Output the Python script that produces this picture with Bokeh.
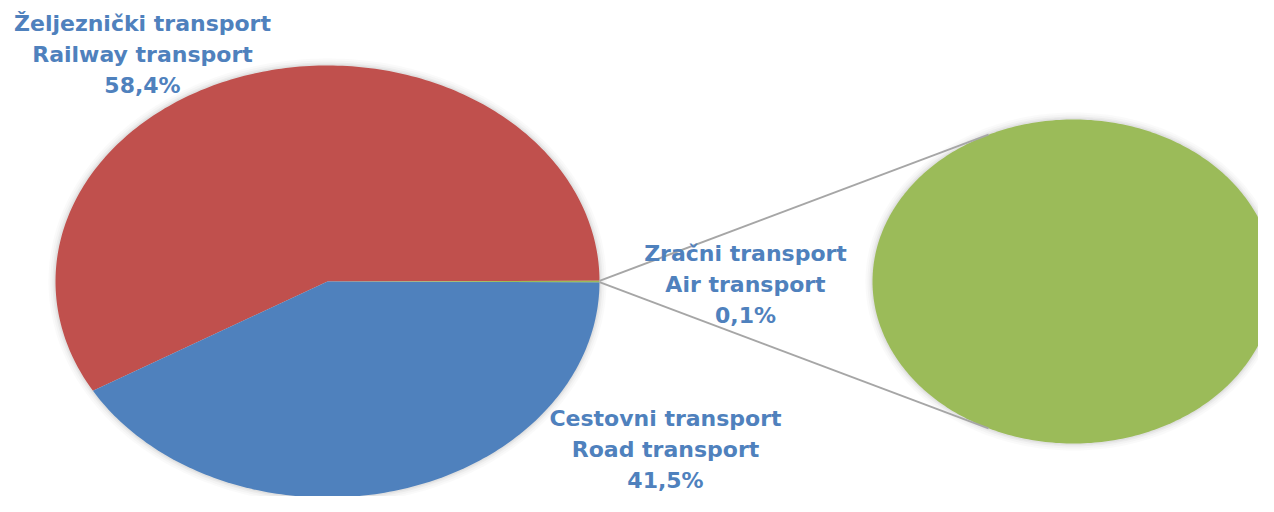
import math
from bokeh.plotting import figure
from bokeh.models import Range1d, ColumnDataSource
from bokeh.core.properties import value
from bokeh.embed import file_html
from bokeh.resources import INLINE

# ---- data ----
names_hr = ["Željeznički transport", "Cestovni transport", "Zračni transport"]
names_en = ["Railway transport", "Road transport", "Air transport"]
shares = [58.4, 41.5, 0.1]
share_labels = ["58,4%", "41,5%", "0,1%"]
colors = ["#C0504D", "#4F81BD", "#9BBB59"]
in_secondary = [False, False, True]

# ---- layout (pixels) ----
W, H = 1258, 496
main_c, main_rx, main_ry = (327, 215), 272, 216
sec_c, sec_rx, sec_ry = (1073, 215), 201, 162
label_pos = [(142, 442), (665, 47), (745, 212)]
text_color = "#4F81BD"

p = figure(width=W, height=H, output_backend="svg", toolbar_location=None,
           x_range=Range1d(0, W), y_range=Range1d(0, H), min_border=0)
p.axis.visible = False
p.grid.visible = False
p.outline_line_color = None
p.background_fill_color = "white"
p.border_fill_color = "white"


def arc_pts(c, rx, ry, a0, a1, n=None):
    if n is None:
        n = max(2, int(abs(a1 - a0) / 1.0) + 2)
    xs, ys = [], []
    for i in range(n):
        a = math.radians(a0 + (a1 - a0) * i / (n - 1))
        xs.append(c[0] + rx * math.cos(a))
        ys.append(c[1] + ry * math.sin(a))
    return xs, ys


# soft glow/shadow around the pies
for (c, rx, ry) in [(main_c, main_rx, main_ry), (sec_c, sec_rx, sec_ry)]:
    for k, a in [(7, 0.04), (5, 0.05), (3, 0.07), (1.5, 0.09)]:
        xs, ys = arc_pts(c, rx + k, ry + k, 0, 360, 361)
        p.patch(xs, ys, fill_color="#808080", fill_alpha=a, line_color=None)

# main pie: secondary group aggregated into one "other" slice centered at 0 deg
other = sum(s for s, sec in zip(shares, in_secondary) if sec)
total = sum(shares)
other_deg = other / total * 360
start = other_deg / 2
wx, wy, wc = [], [], []
for s, col, sec in zip(shares, colors, in_secondary):
    if sec:
        continue
    d = s / total * 360
    xs, ys = arc_pts(main_c, main_rx, main_ry, start, start + d)
    wx.append([main_c[0]] + xs)
    wy.append([main_c[1]] + ys)
    wc.append(col)
    start += d
xs, ys = arc_pts(main_c, main_rx, main_ry, -other_deg / 2, other_deg / 2)
wx.append([main_c[0]] + xs)
wy.append([main_c[1]] + ys)
wc.append(colors[2])
p.patches(wx, wy, fill_color=wc, line_color=None)

# secondary pie
sec_shares = [s for s, sec in zip(shares, in_secondary) if sec]
sec_cols = [c for c, sec in zip(colors, in_secondary) if sec]
st = 0.0
for s, col in zip(sec_shares, sec_cols):
    d = s / other * 360
    xs, ys = arc_pts(sec_c, sec_rx, sec_ry, st, st + d, 361)
    if d >= 359.999:
        p.patch(xs, ys, fill_color=col, line_color=None)
    else:
        p.patch([sec_c[0]] + xs, [sec_c[1]] + ys, fill_color=col, line_color=None)
    st += d

# connector lines
conn_angle = 115
for sgn in (1, -1):
    a_main = math.radians(sgn * other_deg / 2)
    a_sec = math.radians(sgn * conn_angle)
    x0 = main_c[0] + main_rx * math.cos(a_main)
    y0 = main_c[1] + main_ry * math.sin(a_main)
    x1 = sec_c[0] + sec_rx * math.cos(a_sec)
    y1 = sec_c[1] + sec_ry * math.sin(a_sec)
    p.line([x0, x1], [y0, y1], line_color="#A6A6A6", line_width=2)

# labels
src = ColumnDataSource(dict(
    x=[q[0] for q in label_pos],
    y=[q[1] for q in label_pos],
    t=[f"{h}\n{e}\n{l}" for h, e, l in zip(names_hr, names_en, share_labels)],
))
p.text(x="x", y="y", text="t", source=src, text_font=value("DejaVu Sans"),
       text_font_style="bold", text_font_size="22px", text_color=text_color,
       text_align="center", text_baseline="middle", text_line_height=1.24)

open("out.html", "w").write(file_html(p, INLINE))
